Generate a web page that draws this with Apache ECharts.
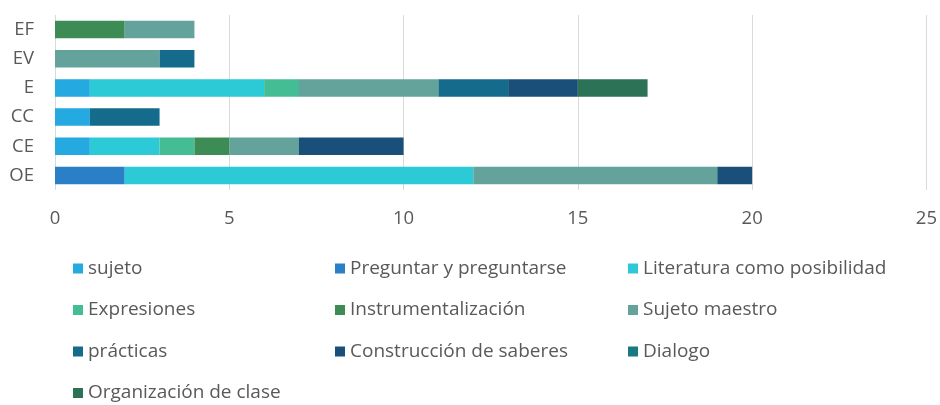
<!DOCTYPE html>
<html>
<head>
<meta charset="utf-8">
<script src="https://cdn.jsdelivr.net/npm/echarts@6/dist/echarts.min.js"></script>
<style>
  html, body { margin: 0; padding: 0; background: #fff; }
  #chart { width: 940px; height: 405px; }
</style>
</head>
<body>
<div id="chart"></div>
<script>
// categorias (de abajo hacia arriba, como las dibuja echarts)
var categories = ['OE', 'CE', 'CC', 'E', 'EV', 'EF'];
var xTicks = [0, 5, 10, 15, 20, 25];

var seriesNames = [
  'sujeto', 'Preguntar y preguntarse', 'Literatura como posibilidad',
  'Expresiones', 'Instrumentalización', 'Sujeto maestro',
  'prácticas', 'Construcción de saberes', 'Dialogo', 'Organización de clase'
];
var colors = ['#24a9e1', '#2a7fc6', '#2bcad6', '#44bc94', '#3e8c55',
              '#63a39b', '#146b8c', '#1a4f7a', '#177a80', '#2b7257'];

//                 OE  CE  CC  E   EV  EF
var sujeto       = [0,  1,  1,  1,  0,  0];
var preguntar    = [2,  0,  0,  0,  0,  0];
var literatura   = [10, 2,  0,  5,  0,  0];
var expresiones  = [0,  1,  0,  1,  0,  0];
var instrument   = [0,  1,  0,  0,  0,  2];
var sujMaestro   = [7,  2,  0,  4,  3,  2];
var practicas    = [0,  0,  2,  2,  1,  0];
var construccion = [1,  3,  0,  2,  0,  0];
var dialogo      = [0,  0,  0,  0,  0,  0];
var organizacion = [0,  0,  0,  2,  0,  0];

var values = [sujeto, preguntar, literatura, expresiones, instrument,
              sujMaestro, practicas, construccion, dialogo, organizacion];

var font = 'Open Sans';
var series = seriesNames.map(function (name, i) {
  return {
    name: name,
    type: 'bar',
    stack: 'total',
    barCategoryGap: '40%',
    itemStyle: { color: colors[i] },
    data: values[i]
  };
});

function legendCol(left, names) {
  return {
    orient: 'vertical',
    left: left,
    top: 258,
    itemWidth: 10,
    itemHeight: 10,
    itemGap: 20.5,
    icon: 'rect',
    padding: 0,
    textStyle: { fontFamily: font, fontSize: 19, color: '#595959', lineHeight: 21 },
    data: names
  };
}

var chart = echarts.init(document.getElementById('chart'));
chart.setOption({
  animation: false,
  textStyle: { fontFamily: font },
  grid: { left: 55, right: 12, top: 15, bottom: 215 },
  legend: [
    legendCol(73, ['sujeto', 'Expresiones', 'prácticas', 'Organización de clase']),
    legendCol(335, ['Preguntar y preguntarse', 'Instrumentalización', 'Construcción de saberes']),
    legendCol(628, ['Literatura como posibilidad', 'Sujeto maestro', 'Dialogo'])
  ],
  xAxis: {
    type: 'value',
    min: xTicks[0],
    max: xTicks[xTicks.length - 1],
    interval: 5,
    axisLine: { show: false },
    axisTick: { show: false },
    axisLabel: { fontSize: 18.5, color: '#595959', margin: 19 },
    splitLine: { lineStyle: { color: '#d9d9d9', width: 1 } }
  },
  yAxis: {
    type: 'category',
    data: categories,
    axisLine: { show: false },
    axisTick: { show: false },
    axisLabel: { fontSize: 18.5, color: '#595959', margin: 21 }
  },
  series: series
});
</script>
</body>
</html>
